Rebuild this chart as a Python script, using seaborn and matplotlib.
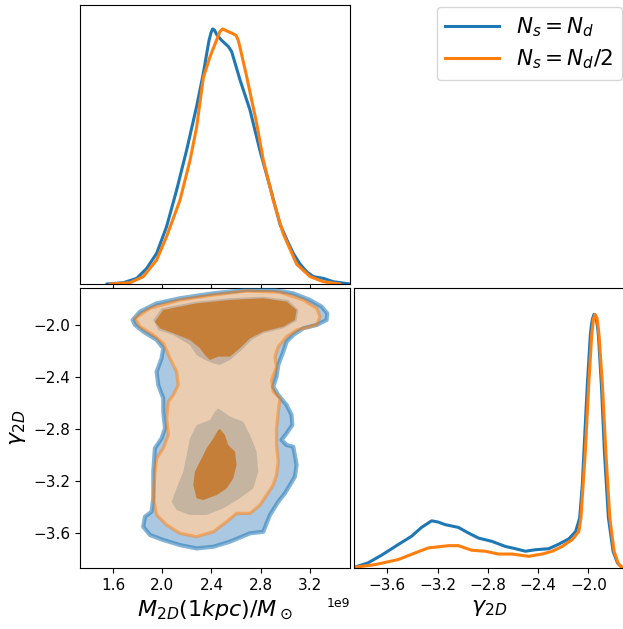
import numpy as np
import pandas as pd
import matplotlib
matplotlib.use("Agg")
import matplotlib.pyplot as plt
import seaborn as sns

# ---- series ------------------------------------------------------------
labels = [r"$N_s = N_d$", r"$N_s = N_d/2$"]
colors = ["#1f77b4", "#ff7f0e"]

# 1D marginal of M_2D(1kpc) [1e9 Msun], peak-normalised density
m_a = [1.548, 1.683, 1.792, 1.873, 1.954, 2.035, 2.117, 2.198, 2.279, 2.334, 2.360,
       2.380, 2.396, 2.409, 2.425, 2.442, 2.483, 2.537, 2.564, 2.632, 2.713, 2.794,
       2.876, 2.957, 3.020, 3.065, 3.120, 3.174, 3.228, 3.309, 3.390, 3.526]
pm_a = [0.0, 0.005, 0.022, 0.061, 0.120, 0.225, 0.369, 0.525, 0.696, 0.827, 0.900,
        0.955, 0.985, 1.0, 0.995, 0.978, 0.955, 0.931, 0.911, 0.800, 0.682, 0.523,
        0.380, 0.234, 0.165, 0.120, 0.078, 0.048, 0.029, 0.022, 0.009, 0.0]
m_b = [1.575, 1.737, 1.846, 1.954, 2.035, 2.144, 2.225, 2.279, 2.334, 2.388, 2.442,
       2.469, 2.491, 2.512, 2.543, 2.564, 2.599, 2.618, 2.645, 2.686, 2.767, 2.822,
       2.903, 2.984, 3.092, 3.201, 3.309, 3.445]
pm_b = [0.0, 0.005, 0.029, 0.094, 0.186, 0.329, 0.484, 0.614, 0.810, 0.891, 0.957,
        0.990, 1.0, 0.995, 0.988, 0.984, 0.975, 0.955, 0.900, 0.813, 0.630, 0.484,
        0.327, 0.196, 0.078, 0.029, 0.009, 0.0]

# 1D marginal of gamma_2D, peak-normalised density
g_a = [-3.861, -3.755, -3.648, -3.515, -3.408, -3.328, -3.248, -3.195, -3.141, -3.035,
       -2.955, -2.875, -2.768, -2.661, -2.581, -2.501, -2.421, -2.315, -2.235, -2.155,
       -2.101, -2.069, -2.048, -2.035, -2.008, -1.984, -1.976, -1.968, -1.955, -1.939,
       -1.928, -1.920, -1.896, -1.872, -1.840, -1.803, -1.768, -1.733]
pg_a = [0.003, 0.020, 0.050, 0.092, 0.125, 0.160, 0.186, 0.181, 0.171, 0.160,
        0.138, 0.118, 0.105, 0.085, 0.076, 0.066, 0.072, 0.076, 0.094, 0.115,
        0.144, 0.197, 0.328, 0.459, 0.722, 0.919, 0.955, 0.980, 1.0, 0.985,
        0.955, 0.919, 0.722, 0.459, 0.197, 0.066, 0.020, 0.003]
g_b = [-3.861, -3.701, -3.515, -3.381, -3.275, -3.168, -3.115, -3.035, -2.928, -2.821,
       -2.715, -2.608, -2.475, -2.368, -2.288, -2.208, -2.128, -2.075, -2.059, -2.024,
       -1.997, -1.973, -1.965, -1.960, -1.947, -1.931, -1.923, -1.915, -1.888, -1.861,
       -1.829, -1.795, -1.760, -1.733]
pg_b = [0.003, 0.013, 0.033, 0.059, 0.079, 0.085, 0.088, 0.088, 0.070, 0.066,
        0.055, 0.055, 0.046, 0.055, 0.066, 0.085, 0.112, 0.144, 0.197, 0.459,
        0.722, 0.919, 0.955, 0.980, 1.0, 0.985, 0.955, 0.919, 0.722, 0.459,
        0.197, 0.066, 0.015, 0.003]

# 2D credible-region boundaries (M [1e9 Msun], gamma)
a_out_m = [1.759, 1.818, 1.954, 2.144, 2.415, 2.686, 2.902, 3.065, 3.200, 3.295, 3.341,
           3.336, 3.255, 3.146, 3.065, 3.011, 2.984, 2.943, 2.929, 2.902, 2.943, 3.011,
           3.051, 3.057, 3.011, 2.970, 3.011, 3.065, 3.092, 3.078, 3.038, 2.997, 2.943,
           2.875, 2.821, 2.713, 2.550, 2.415, 2.279, 2.144, 2.008, 1.900, 1.845, 1.859,
           1.913, 1.927, 1.927, 1.940, 1.994, 2.022, 2.008, 2.008, 1.967, 1.954, 1.994,
           2.008, 1.954, 1.845, 1.778]
a_out_g = [-1.962, -1.898, -1.834, -1.795, -1.757, -1.731, -1.731, -1.757, -1.808, -1.859,
           -1.911, -1.962, -2.000, -2.026, -2.077, -2.128, -2.205, -2.307, -2.397, -2.474,
           -2.538, -2.615, -2.691, -2.768, -2.832, -2.883, -2.922, -2.935, -3.075, -3.165,
           -3.229, -3.293, -3.357, -3.459, -3.588, -3.600, -3.664, -3.703, -3.716, -3.690,
           -3.651, -3.613, -3.549, -3.472, -3.434, -3.331, -3.127, -2.947, -2.871, -2.794,
           -2.666, -2.563, -2.461, -2.359, -2.256, -2.179, -2.115, -2.051, -2.000]

b_out_m = [1.778, 1.900, 2.144, 2.415, 2.686, 2.957, 3.146, 3.255, 3.282, 3.255, 3.092,
           3.011, 2.943, 2.916, 2.929, 2.889, 2.902, 2.957, 2.943, 2.929, 2.929, 2.943,
           2.929, 2.902, 2.848, 2.794, 2.713, 2.604, 2.523, 2.415, 2.279, 2.144, 2.035,
           1.954, 1.927, 1.940, 1.954, 2.008, 2.049, 2.035, 2.049, 2.089, 2.130, 2.116,
           2.062, 2.008, 1.927, 1.818]
b_out_g = [-1.949, -1.872, -1.808, -1.770, -1.739, -1.749, -1.808, -1.872, -1.936, -2.000,
           -2.039, -2.090, -2.167, -2.243, -2.320, -2.423, -2.512, -2.563, -2.666, -2.794,
           -2.922, -3.050, -3.152, -3.229, -3.306, -3.383, -3.447, -3.447, -3.511, -3.588,
           -3.626, -3.600, -3.536, -3.459, -3.331, -3.127, -3.024, -2.947, -2.845, -2.717,
           -2.589, -2.538, -2.461, -2.359, -2.256, -2.141, -2.077, -2.013]

b_mid_top_m = [1.927, 1.994, 2.279, 2.550, 2.821, 3.024, 3.106, 3.092, 2.984, 2.821,
               2.726, 2.645, 2.550, 2.469, 2.415, 2.347, 2.279, 2.225, 2.089, 1.967]
b_mid_top_g = [-1.962, -1.872, -1.821, -1.795, -1.783, -1.808, -1.885, -1.969, -2.026, -2.064,
               -2.115, -2.192, -2.269, -2.307, -2.295, -2.269, -2.231, -2.154, -2.077, -2.039]
b_mid_low_m = [2.455, 2.550, 2.658, 2.713, 2.767, 2.780, 2.740, 2.631, 2.496, 2.360,
               2.225, 2.116, 2.076, 2.116, 2.171, 2.198, 2.225, 2.279, 2.387, 2.428]
b_mid_low_g = [-2.640, -2.704, -2.743, -2.845, -2.973, -3.127, -3.255, -3.331, -3.408, -3.459,
               -3.459, -3.421, -3.357, -3.255, -3.127, -2.999, -2.871, -2.768, -2.730, -2.666]

b_in_top_m = [1.940, 2.008, 2.279, 2.550, 2.821, 3.011, 3.092, 3.078, 2.984, 2.821,
              2.713, 2.631, 2.550, 2.455, 2.387, 2.347, 2.306, 2.225, 2.089, 1.981]
b_in_top_g = [-1.975, -1.885, -1.834, -1.808, -1.795, -1.821, -1.885, -1.962, -2.013, -2.051,
              -2.103, -2.179, -2.243, -2.243, -2.269, -2.231, -2.179, -2.115, -2.064, -2.026]
b_in_low_m = [2.469, 2.509, 2.536, 2.591, 2.604, 2.577, 2.523, 2.442, 2.333, 2.279,
              2.252, 2.265, 2.320, 2.360, 2.415, 2.455]
b_in_low_g = [-2.799, -2.845, -2.922, -2.973, -3.075, -3.178, -3.255, -3.306, -3.344, -3.331,
              -3.229, -3.127, -3.024, -2.947, -2.871, -2.807]

m_ticks = [1.6, 2.0, 2.4, 2.8, 3.2]
g_ticks = [-3.6, -3.2, -2.8, -2.4, -2.0]

# ---- figure ------------------------------------------------------------
E9 = 1e9
fig = plt.figure(figsize=(6.23, 6.29), dpi=100)
ax_m = fig.add_axes([0.1284, 0.5485, 0.4334, 0.4436])
ax_2d = fig.add_axes([0.1284, 0.0970, 0.4334, 0.4452])
ax_g = fig.add_axes([0.5682, 0.0970, 0.4334, 0.4452])

m_lim = (1.331 * E9, 3.526 * E9)
g_lim = (-3.866, -1.716)
line_kw = dict(linewidth=2.2, solid_joinstyle="round", solid_capstyle="round")

# marginal of M
df_m = pd.concat([
    pd.DataFrame({"M": np.array(m_a) * E9, "p": pm_a, "run": labels[0]}),
    pd.DataFrame({"M": np.array(m_b) * E9, "p": pm_b, "run": labels[1]}),
])
sns.lineplot(data=df_m, x="M", y="p", hue="run", palette=colors,
             ax=ax_m, legend=False, sort=False, **line_kw)
ax_m.set_xlim(m_lim)
ax_m.set_ylim(0, 1.094)
ax_m.set_xticks(np.array(m_ticks) * E9)
ax_m.tick_params(axis="x", labelbottom=False)
ax_m.set_yticks([])
ax_m.set_xlabel("")
ax_m.set_ylabel("")

# marginal of gamma
df_g = pd.concat([
    pd.DataFrame({"g": g_a, "p": pg_a, "run": labels[0]}),
    pd.DataFrame({"g": g_b, "p": pg_b, "run": labels[1]}),
])
sns.lineplot(data=df_g, x="g", y="p", hue="run", palette=colors,
             ax=ax_g, legend=False, sort=False, **line_kw)
ax_g.set_xlim(g_lim)
ax_g.set_ylim(0, 1.104)
ax_g.set_xticks(g_ticks)
ax_g.set_yticks([])
ax_g.set_ylabel("")
ax_g.set_xlabel(r"$\gamma_{2D}$", fontsize=16)
ax_g.tick_params(axis="x", labelsize=11)

# joint credible regions
def region(ax, ms, gs, face, edge=None, lw=0.0, alpha_edge=1.0):
    xs = np.array(ms) * E9
    ax.fill(xs, gs, color=face, lw=0, zorder=2)
    if edge is not None:
        ax.fill(xs, gs, facecolor="none", edgecolor=edge, lw=lw,
                alpha=alpha_edge, joinstyle="round", zorder=3)

region(ax_2d, a_out_m, a_out_g, "#abc8e3", colors[0], 3.0, 0.55)
region(ax_2d, b_out_m, b_out_g, "#eacdb0", colors[1], 2.4, 0.5)
region(ax_2d, b_mid_top_m, b_mid_top_g, "#c5b19d")
region(ax_2d, b_mid_low_m, b_mid_low_g, "#c4b4a0")
region(ax_2d, b_in_top_m, b_in_top_g, "#c67f39")
region(ax_2d, b_in_low_m, b_in_low_g, "#c67f39")

ax_2d.set_xlim(m_lim)
ax_2d.set_ylim(g_lim)
ax_2d.set_xticks(np.array(m_ticks) * E9)
ax_2d.set_yticks(g_ticks)
ax_2d.tick_params(labelsize=11)
ax_2d.set_xlabel(r"$M_{2D}(1kpc)/M_\odot$", fontsize=16)
ax_2d.set_ylabel(r"$\gamma_{2D}$", fontsize=16)
ax_2d.xaxis.get_offset_text().set_fontsize(9)

handles = [plt.Line2D([], [], color=c, lw=2.2) for c in colors]
fig.legend(handles, labels, loc="upper right", bbox_to_anchor=(0.999, 0.989),
           fontsize=15.5, handlelength=2.5, labelspacing=0.4, borderaxespad=0.0)

fig.savefig("out.png", dpi=100)
